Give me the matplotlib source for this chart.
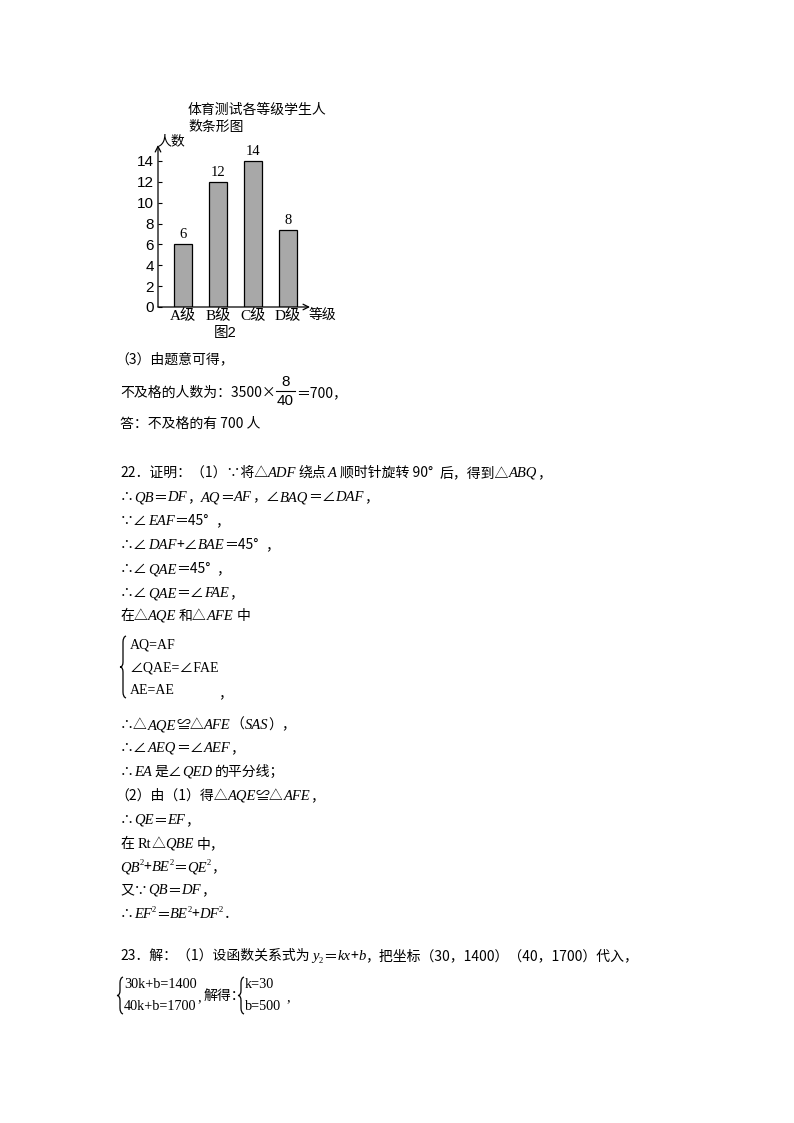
import matplotlib
matplotlib.use('Agg')
import matplotlib.pyplot as plt
from matplotlib.path import Path
from matplotlib.patches import PathPatch
from matplotlib.font_manager import FontProperties

W, H = 794, 1123

# chart data
grades = ['A级', 'B级', 'C级', 'D级']
counts = [6, 12, 14, 7.4]          # bar heights as drawn in the figure
count_labels = ['6', '12', '14', '8']
y_ticks = [0, 2, 4, 6, 8, 10, 12, 14]
chart_title = ['体育测试各等级学生人', '数条形图']

# text of the page, tokens split by "|":
# *italic  ~roman serif  ^sup  _sub  #gap(px), anything else plain
part3 = [
    (358, "（3）由题意可得，"),
    (423, "答：不及格的有 700 人"),
]
part22 = [
    (472, "22．证明：（1）∵将△|*ADF|#2|绕点|#2|*A|#3|顺时针旋转 90°|#6|后，得到△|*ABQ|，"),
    (496, "∴|*QB|＝|*DF|，|*AQ|＝|*AF|，∠|*BAQ|＝∠|*DAF|，"),
    (520, "∵∠|*EAF|＝45°|#6|，"),
    (544, "∴∠|*DAF|+∠|*BAE|＝45°|#6|，"),
    (568, "∴∠|*QAE|＝45°|#6|，"),
    (592, "∴∠|*QAE|＝∠|*FAE|，"),
    (615, "在△|*AQE|#3|和△|*AFE|#3|中"),
    (724, "∴△|*AQE|≌△|*AFE|（|*SAS|），"),
    (747, "∴∠|*AEQ|＝∠|*AEF|，"),
    (771, "∴|*EA|#3|是∠|*QED|#2|的平分线；"),
    (795, "（2）由（1）得△|*AQE|≌△|*AFE|，"),
    (819, "∴|*QE|＝|*EF|，"),
    (843, "在|#4|~Rt|△|*QBE|#3|中，"),
    (866, "*QB|^2|+|*BE|^2|＝|*QE|^2|，"),
    (889, "又∵|*QB|＝|*DF|，"),
    (913, "∴|*EF|^2|＝|*BE|^2|+|*DF|^2|．"),
    (955, "23．解：（1）设函数关系式为|#3|*y|_2|＝|*kx|+|*b|，把坐标（30，1400）（40，1700）代入，"),
]
brace_rows1 = ['AQ=AF', '∠QAE=∠FAE', 'AE=AE']
brace_rows2 = ['30k+b=1400', '40k+b=1700']
brace_rows3 = ['k=30', 'b=500']

CJK = ['Noto Sans CJK SC', 'DejaVu Sans']
SERIF = ['Liberation Serif', 'Noto Sans CJK SC']
SANS = ['Liberation Sans', 'Noto Sans CJK SC']

fig = plt.figure(figsize=(W / 100, H / 100), dpi=100)
fig.patch.set_facecolor('white')
rend = fig.canvas.get_renderer()


def fx(px):
    return px / W


def fy(py):
    return 1 - py / H


def adv(s, fp):
    w1 = rend.get_text_width_height_descent('H' + s + 'H', fp, False)[0]
    w0 = rend.get_text_width_height_descent('HH', fp, False)[0]
    return w1 - w0


def put(x, y, markup, size=10):
    # full-width opening paren has its ink on the right, pull the line left
    if markup.startswith('（'):
        x -= 5
    base = y + 0.36 * size * 100 / 72
    for tok in markup.split('|'):
        if not tok:
            continue
        k, s = tok[0], tok[1:]
        if k == '#':
            x += float(s)
            continue
        fam, sty, fs, dy = CJK, 'normal', size, 0
        if k == '*':
            fam, sty, fs = SERIF, 'italic', size * 1.05
        elif k == '~':
            fam, fs = SERIF, size * 1.05
        elif k == '^':
            fam, fs, dy = SERIF, size * 0.62, -6
        elif k == '_':
            fam, fs, dy = SERIF, size * 0.62, 3
        else:
            s = tok
        fp = FontProperties(family=fam, style=sty, size=fs)
        fig.text(fx(x), fy(base + dy), s, fontproperties=fp, va='baseline', ha='left')
        x += adv(s, fp)
    return x


def brace(x, y0, y1, w=5):
    ym = (y0 + y1) / 2
    pts = [(x + w, y0), (x + 2, y0 + 1), (x + 2, y0 + 6),
           (x + 2, ym - 5), (x + 2, ym), (x - 1, ym),
           (x + 2, ym), (x + 2, ym + 5),
           (x + 2, y1 - 6), (x + 2, y1 - 1), (x + w, y1)]
    codes = [Path.MOVETO, Path.CURVE3, Path.CURVE3, Path.LINETO,
             Path.CURVE3, Path.CURVE3, Path.CURVE3, Path.CURVE3,
             Path.LINETO, Path.CURVE3, Path.CURVE3]
    p = Path([(fx(a), fy(b)) for a, b in pts], codes)
    fig.add_artist(PathPatch(p, fill=False, lw=0.9, color='black', transform=fig.transFigure))


# ---- bar chart
ax = fig.add_axes([fx(158), fy(307), (310 - 158) / W, (307 - 145) / H])
ax.set_xlim(-0.714, 3.64)
ax.set_ylim(0, 15.53)
ax.patch.set_alpha(0)
for s in ax.spines.values():
    s.set_visible(False)
ax.bar(range(len(grades)), counts, width=0.51, color='#a8a8a8', edgecolor='black',
       linewidth=0.9, zorder=2)
for i, (h, lab) in enumerate(zip(counts, count_labels)):
    ax.text(i, h + 0.3, lab, ha='center', va='bottom', family=SERIF, fontsize=10.5)
ax.set_yticks(y_ticks)
ax.set_yticklabels([str(v) for v in y_ticks], family=SANS, fontsize=11)
ax.tick_params(axis='y', direction='in', length=3, width=0.8, pad=3)
ax.set_xticks(range(len(grades)))
ax.set_xticklabels(grades, family=SERIF, fontsize=11)
ax.tick_params(axis='x', length=0, pad=1)
arrow = dict(arrowstyle='->', lw=0.9, color='black', shrinkA=0, shrinkB=0)
ax.annotate('', xy=(0, 1), xytext=(0, 0), xycoords='axes fraction', arrowprops=arrow)
ax.annotate('', xy=(1, 0), xytext=(0, 0), xycoords='axes fraction', arrowprops=arrow)

for i, t in enumerate(chart_title):
    fig.text(fx(188), fy(110 + 17 * i), t, family=CJK, fontsize=10, va='center', ha='left')
fig.text(fx(157), fy(141), '人数', family=CJK, fontsize=10, va='center', ha='left')
fig.text(fx(309), fy(315), '等级', family=CJK, fontsize=10, va='center', ha='left')
fig.text(fx(225), fy(333), '图2', family=SANS, fontsize=10.5, va='center', ha='center')

# ---- part (3)
for y, m in part3:
    put(120, y, m)
x = put(120, 392, "不及格的人数为：3500×")
fr = FontProperties(family=SANS, size=11)
fw = adv('40', fr)
fig.text(fx(x + 1 + fw / 2), fy(382), '8', fontproperties=fr, ha='center', va='center')
fig.text(fx(x + 1 + fw / 2), fy(401), '40', fontproperties=fr, ha='center', va='center')
fig.add_artist(plt.Line2D([fx(x), fx(x + 2 + fw)], [fy(391), fy(391)], lw=0.8, color='black'))
put(x + 3 + fw, 392, "＝700，")

# ---- 22 / 23
for y, m in part22:
    put(120, y, m)

brace(121, 636, 698)
fb = FontProperties(family=SERIF, size=10)
for i, r in enumerate(brace_rows1):
    fig.text(fx(130), fy(645 + 23 * i), r, fontproperties=fb, va='center', ha='left')
put(218, 692, "，")

fb2 = FontProperties(family=SERIF, size=10.2)
brace(118, 977, 1014)
for i, r in enumerate(brace_rows2):
    fig.text(fx(124), fy(984 + 22 * i), r, fontproperties=fb2, va='center', ha='left')
fig.text(fx(197), fy(998), ',', fontproperties=fb2, va='center', ha='left')
put(204, 995, "解得：")
brace(239, 977, 1014)
for i, r in enumerate(brace_rows3):
    fig.text(fx(245), fy(984 + 22 * i), r, fontproperties=fb2, va='center', ha='left')
fig.text(fx(286), fy(998), ',', fontproperties=fb2, va='center', ha='left')

fig.savefig('out.png', dpi=100, facecolor='white')
